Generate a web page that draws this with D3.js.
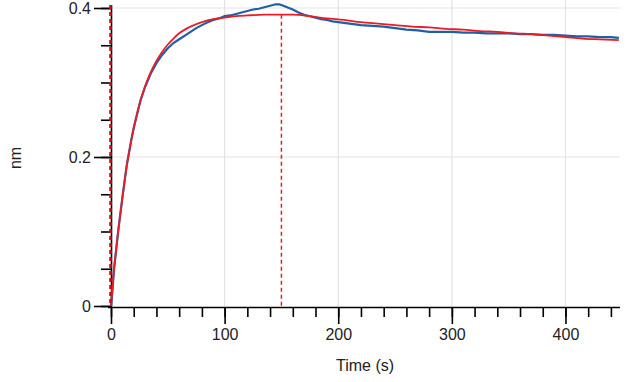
<!DOCTYPE html>
<html><head><meta charset="utf-8">
<script src="https://cdn.jsdelivr.net/npm/d3@7"></script>
<style>body{margin:0;background:#fff}svg{display:block}</style>
</head><body>
<svg id="c" width="629" height="382"></svg>
<script>
// ---- data ----
const xTicks = [0, 100, 200, 300, 400];
const yTicks = [0, 0.2, 0.4];
const markerTimes = [0, 150];
const obsT = [0,1,2,3,4,5,6,7,8,10,12,14,16,18,20,23,26,30,35,40,45,50,55,60,65,70,75,80,85,90,95,100,105,110,115,120,125,130,135,140,145,148,150,155,160,165,170,175,180,185,190,195,200,210,220,230,240,250,260,270,280,290,300,310,320,330,340,350,360,370,380,390,400,410,420,430,440,447];
const obsV = [0,0.015,0.036,0.054,0.068,0.082,0.096,0.109,0.121,0.145,0.168,0.190,0.207,0.224,0.239,0.258,0.276,0.294,0.312,0.326,0.337,0.346,0.353,0.358,0.363,0.368,0.373,0.377,0.381,0.384,0.386,0.389,0.390,0.392,0.394,0.396,0.398,0.399,0.401,0.403,0.405,0.405,0.404,0.401,0.398,0.394,0.391,0.389,0.387,0.385,0.384,0.382,0.381,0.379,0.377,0.376,0.375,0.373,0.371,0.370,0.368,0.368,0.368,0.367,0.367,0.366,0.366,0.366,0.365,0.365,0.364,0.364,0.363,0.362,0.362,0.361,0.361,0.360];
const fitT = [0,1,2,3,4,5,6,7,8,10,12,14,16,18,20,23,26,30,35,40,45,50,55,60,65,70,80,90,100,110,120,135,150,160,175,190,205,220,235,250,265,280,295,310,325,340,355,370,385,400,415,430,447];
const fitV = [0,0.020,0.038,0.055,0.068,0.082,0.096,0.109,0.121,0.145,0.168,0.190,0.207,0.224,0.239,0.258,0.276,0.295,0.314,0.329,0.341,0.351,0.359,0.366,0.371,0.375,0.381,0.385,0.387,0.389,0.390,0.391,0.391,0.391,0.389,0.386,0.384,0.381,0.379,0.377,0.375,0.374,0.372,0.371,0.369,0.368,0.366,0.365,0.363,0.361,0.359,0.358,0.357];

// ---- chart ----
const svg = d3.select("#c");
const font = "'Liberation Sans', Arial, sans-serif";
const x = d3.scaleLinear().domain([0, 448]).range([111, 620]);
const y = d3.scaleLinear().domain([0, 0.4]).range([306, 8]);
const blue = "#1f5fa6", red = "#ec1c24";

// grid
svg.append("g").selectAll("line").data(xTicks.filter(d => d > 0)).join("line")
  .attr("x1", d => x(d)).attr("x2", d => x(d)).attr("y1", 0).attr("y2", y(0))
  .attr("stroke", "#e3e3e3").attr("stroke-width", 1.2);
svg.append("g").selectAll("line").data(yTicks.filter(d => d > 0)).join("line")
  .attr("x1", x(0)).attr("x2", 620).attr("y1", d => y(d)).attr("y2", d => y(d))
  .attr("stroke", "#e3e3e3").attr("stroke-width", 1.2);

// axes
const xMinor = d3.range(0, 441, 20);
const yMinor = d3.range(0, 0.401, 0.05);
const gx = svg.append("g").attr("transform", `translate(0,${y(0) + 1})`);
gx.call(d3.axisBottom(x).tickValues(xMinor).tickSize(10).tickFormat(""));
gx.call(g => g.select(".domain").remove());
const gx2 = svg.append("g").attr("transform", `translate(0,${y(0) + 1})`);
gx2.call(d3.axisBottom(x).tickValues(xTicks).tickSize(17).tickPadding(5).tickFormat(d3.format("d")));
gx2.select(".domain").attr("d", `M${x(0) - 3},0.5H620`);

const gy = svg.append("g").attr("transform", `translate(${x(0)},0)`);
gy.call(d3.axisLeft(y).tickValues(yMinor).tickSize(10).tickFormat(""));
gy.call(g => g.select(".domain").remove());
const gy2 = svg.append("g").attr("transform", `translate(${x(0)},0)`);
gy2.call(d3.axisLeft(y).tickValues(yTicks).tickSize(17).tickPadding(3).tickFormat(d => d === 0 ? "0" : d3.format(".1f")(d)));
gy2.select(".domain").attr("d", `M0.5,5V${y(0) + 1}`);

svg.selectAll(".tick line").attr("stroke", "#000").attr("stroke-width", 1.6);
svg.selectAll(".domain").attr("stroke", "#000").attr("stroke-width", 1.6);
svg.selectAll(".tick text").attr("font-family", font).attr("font-size", 16).attr("fill", "#222");

// labels
svg.append("text").attr("x", 365).attr("y", 371).attr("text-anchor", "middle")
  .attr("font-family", font).attr("font-size", 16).attr("fill", "#222").text("Time (s)");
svg.append("text").attr("transform", "translate(21,158) rotate(-90)").attr("text-anchor", "middle")
  .attr("font-family", font).attr("font-size", 16).attr("fill", "#222").text("nm");

// data lines
const obs = obsT.map((t, i) => [t, obsV[i]]);
const fit = fitT.map((t, i) => [t, fitV[i]]);
svg.append("path").datum(obs)
  .attr("d", d3.line().x(d => x(d[0])).y(d => y(d[1])))
  .attr("fill", "none").attr("stroke", blue).attr("stroke-width", 2.2);
svg.append("path").datum(fit)
  .attr("d", d3.line().x(d => x(d[0])).y(d => y(d[1])).curve(d3.curveMonotoneX))
  .attr("fill", "none").attr("stroke", red).attr("stroke-width", 1.8);

// marker dashed lines
svg.append("line").attr("x1", x(markerTimes[0]) - 0.5).attr("x2", x(markerTimes[0]) - 0.5)
  .attr("y1", 5).attr("y2", y(0))
  .attr("stroke", "#c8101a").attr("stroke-width", 2.6).attr("stroke-dasharray", "4,3");
svg.append("line").attr("x1", x(markerTimes[1])).attr("x2", x(markerTimes[1]))
  .attr("y1", y(0.391)).attr("y2", y(0))
  .attr("stroke", red).attr("stroke-width", 1.5).attr("stroke-dasharray", "4,3");
</script>
</body></html>
